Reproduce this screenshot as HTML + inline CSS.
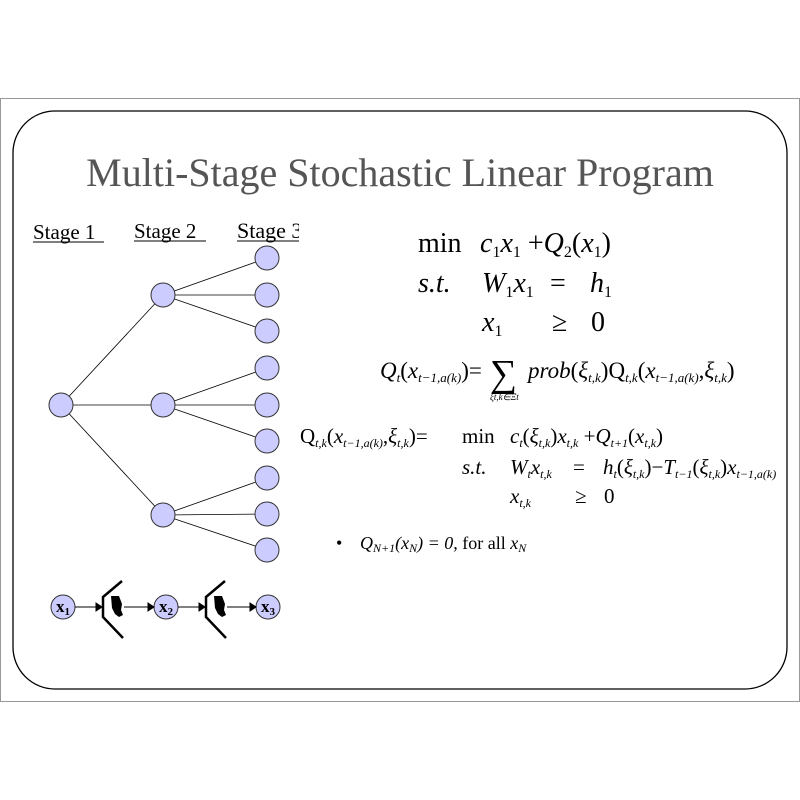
<!DOCTYPE html>
<html><head><meta charset="utf-8"><style>
html,body{margin:0;padding:0;background:#fff;}
svg{display:block}
text,tspan{font-family:"Liberation Serif","Times New Roman",serif;}
.i{font-style:italic}
</style></head><body>
<svg width="800" height="800" viewBox="0 0 800 800" xmlns="http://www.w3.org/2000/svg" font-family="Liberation Serif, serif">
<rect x="0.5" y="98.5" width="799" height="603" fill="#fff" stroke="#999" stroke-width="1"/>
<rect x="13" y="111" width="774" height="578" rx="42" ry="42" fill="#fff" stroke="#000" stroke-width="1.3"/>
<text x="400" y="186" font-size="40" fill="#555" text-anchor="middle">Multi-Stage Stochastic Linear Program</text>
<g font-size="21" fill="#000">
<text x="33" y="239">Stage 1</text><line x1="33" y1="242" x2="104" y2="242" stroke="#000"/>
<text x="134" y="238">Stage 2</text><line x1="134" y1="241" x2="206" y2="241" stroke="#000"/>
<svg x="0" y="0" width="299" height="800"><text x="237" y="238" font-size="22">Stage 3</text></svg>
<line x1="237" y1="241" x2="299" y2="241" stroke="#000"/>
</g>
<g stroke="#000" stroke-width="0.8">
<line x1="61" y1="405" x2="163" y2="295"/><line x1="61" y1="405" x2="163" y2="405"/><line x1="61" y1="405" x2="163" y2="515"/>
<line x1="163" y1="295" x2="267" y2="258"/><line x1="163" y1="295" x2="267" y2="295"/><line x1="163" y1="295" x2="267" y2="331"/>
<line x1="163" y1="405" x2="267" y2="368"/><line x1="163" y1="405" x2="267" y2="405"/><line x1="163" y1="405" x2="267" y2="441"/>
<line x1="163" y1="515" x2="267" y2="478"/><line x1="163" y1="515" x2="267" y2="514"/><line x1="163" y1="515" x2="267" y2="550"/>
</g>
<g fill="#ccccff" stroke="#333" stroke-width="1">
<circle cx="61" cy="405" r="12"/>
<circle cx="163" cy="295" r="12"/><circle cx="163" cy="405" r="12"/><circle cx="163" cy="515" r="12"/>
<circle cx="267" cy="258" r="12"/><circle cx="267" cy="295" r="12"/><circle cx="267" cy="331" r="12"/>
<circle cx="267" cy="368" r="12"/><circle cx="267" cy="405" r="12"/><circle cx="267" cy="441" r="12"/>
<circle cx="267" cy="478" r="12"/><circle cx="267" cy="514" r="12"/><circle cx="267" cy="550" r="12"/>
<circle cx="63" cy="607" r="12"/><circle cx="166" cy="607" r="12"/><circle cx="268" cy="607" r="12"/>
</g>
<g font-size="17" font-weight="bold" fill="#000">
<text x="56" y="612">x<tspan font-size="11" dy="3">1</tspan></text>
<text x="159" y="612">x<tspan font-size="11" dy="3">2</tspan></text>
<text x="261" y="612">x<tspan font-size="11" dy="3">3</tspan></text>
</g>
<g stroke="#000" stroke-width="1">
<line x1="75" y1="607" x2="96" y2="607"/><polygon points="96,603 102,607 96,611" fill="#000"/>
<line x1="124" y1="607" x2="148" y2="607"/><polygon points="148,603 154,607 148,611" fill="#000"/>
<line x1="178" y1="607" x2="199" y2="607"/><polygon points="199,603 205,607 199,611" fill="#000"/>
<line x1="227" y1="607" x2="250" y2="607"/><polygon points="250,603 256,607 250,611" fill="#000"/>
</g>
<g fill="none" stroke="#000" stroke-width="2.5">
<polyline points="122,581 103,597 103,617 123,638"/>
<polyline points="225,581 206,597 206,617 226,638"/>
</g>
<g fill="#000">
<path d="M111,596 h8 l3,8 l-1,6 l2,5 l-4,2 l-4,-3 l-3,-6 z"/>
<path d="M214,596 h8 l3,8 l-1,6 l2,5 l-4,2 l-4,-3 l-3,-6 z"/>
</g>
<g font-size="28" fill="#000">
<text x="418" y="252">min</text>
<text x="480" y="252" class="i">c<tspan font-size="16" dy="5" font-style="normal">1</tspan><tspan dy="-5">x</tspan><tspan font-size="16" dy="5" font-style="normal">1</tspan><tspan dy="-5" font-style="normal"> +</tspan><tspan>Q</tspan><tspan font-size="16" dy="5" font-style="normal">2</tspan><tspan dy="-5" font-style="normal">(</tspan>x<tspan font-size="16" dy="5" font-style="normal">1</tspan><tspan dy="-5" font-style="normal">)</tspan></text>
<text x="418" y="292" class="i">s.t.</text>
<text x="482" y="292" class="i">W<tspan font-size="16" dy="5" font-style="normal">1</tspan><tspan dy="-5">x</tspan><tspan font-size="16" dy="5" font-style="normal">1</tspan></text>
<text x="550" y="292">=</text>
<text x="590" y="292" class="i">h<tspan font-size="16" dy="5" font-style="normal">1</tspan></text>
<text x="482" y="331" class="i">x<tspan font-size="16" dy="5" font-style="normal">1</tspan></text>
<text x="552" y="331">≥</text><text x="591" y="331">0</text>
</g>
<g font-size="23" fill="#000">
<text x="380" y="378" class="i">Q<tspan font-size="13" dy="4">t</tspan><tspan dy="-4" font-style="normal">(</tspan>x<tspan font-size="13" dy="4">t−1,a(k)</tspan><tspan dy="-4" font-style="normal">)=</tspan></text>
<text x="490" y="386" font-size="38">∑</text>
<text x="490" y="400" font-size="9" class="i">ξ<tspan>t,k</tspan>∈Ξ<tspan>t</tspan></text>
<text x="528" y="378" class="i">prob<tspan font-style="normal">(</tspan>ξ<tspan font-size="13" dy="4">t,k</tspan><tspan dy="-4" font-style="normal">)Q</tspan><tspan font-size="13" dy="4">t,k</tspan><tspan dy="-4" font-style="normal">(</tspan>x<tspan font-size="13" dy="4">t−1,a(k)</tspan><tspan dy="-4" font-style="normal">,</tspan>ξ<tspan font-size="13" dy="4">t,k</tspan><tspan dy="-4" font-style="normal">)</tspan></text>
</g>
<g font-size="21" fill="#000">
<text x="300" y="443">Q<tspan font-size="12" dy="4" class="i">t,k</tspan><tspan dy="-4">(</tspan><tspan class="i">x</tspan><tspan font-size="12" dy="4" class="i">t−1,a(k)</tspan><tspan dy="-4">,</tspan><tspan class="i">ξ</tspan><tspan font-size="12" dy="4" class="i">t,k</tspan><tspan dy="-4">)=</tspan></text>
<text x="462" y="443">min</text>
<text x="510" y="443" class="i">c<tspan font-size="12" dy="4">t</tspan><tspan dy="-4" font-style="normal">(</tspan>ξ<tspan font-size="12" dy="4">t,k</tspan><tspan dy="-4" font-style="normal">)</tspan>x<tspan font-size="12" dy="4">t,k</tspan><tspan dy="-4" font-style="normal"> +</tspan>Q<tspan font-size="12" dy="4">t+1</tspan><tspan dy="-4" font-style="normal">(</tspan>x<tspan font-size="12" dy="4">t,k</tspan><tspan dy="-4" font-style="normal">)</tspan></text>
<text x="462" y="474" class="i">s.t.</text>
<text x="510" y="474" class="i">W<tspan font-size="12" dy="4">t</tspan><tspan dy="-4">x</tspan><tspan font-size="12" dy="4">t,k</tspan></text>
<text x="573" y="474">=</text>
<text x="603" y="474" class="i">h<tspan font-size="12" dy="4">t</tspan><tspan dy="-4" font-style="normal">(</tspan>ξ<tspan font-size="12" dy="4">t,k</tspan><tspan dy="-4" font-style="normal">)−</tspan>T<tspan font-size="12" dy="4">t−1</tspan><tspan dy="-4" font-style="normal">(</tspan>ξ<tspan font-size="12" dy="4">t,k</tspan><tspan dy="-4" font-style="normal">)</tspan>x<tspan font-size="12" dy="4">t−1,a(k)</tspan></text>
<text x="510" y="503" class="i">x<tspan font-size="12" dy="4">t,k</tspan></text>
<text x="575" y="503">≥</text><text x="604" y="503">0</text>
</g>
<g font-size="18" fill="#000">
<text x="336" y="549">•</text>
<text x="360" y="549" class="i">Q<tspan font-size="12" dy="3">N+1</tspan><tspan dy="-3">(x</tspan><tspan font-size="12" dy="3">N</tspan><tspan dy="-3">) = 0,</tspan><tspan font-style="normal"> for all </tspan>x<tspan font-size="12" dy="3">N</tspan></text>
</g>
</svg>
</body></html>
